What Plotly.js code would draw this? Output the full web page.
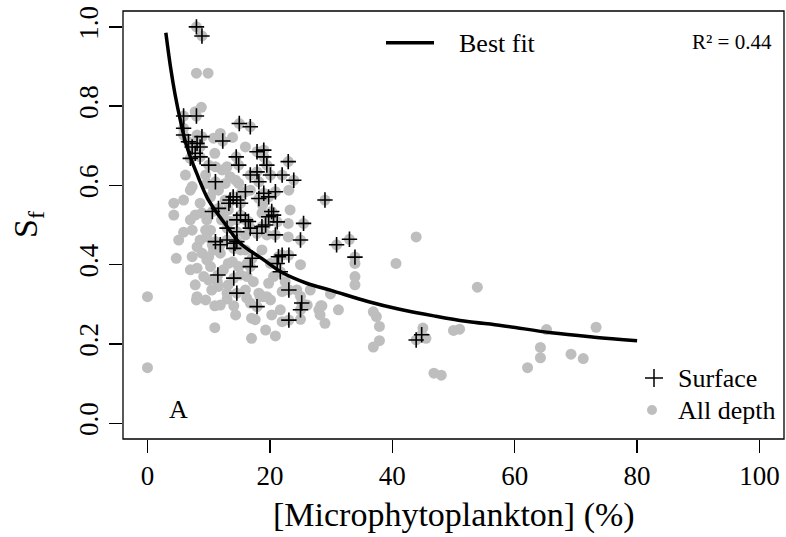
<!DOCTYPE html>
<html>
<head>
<meta charset="utf-8">
<script src="https://cdn.plot.ly/plotly-3.0.1.min.js"></script>
<style>html,body{margin:0;padding:0;background:#fff;}#chart{width:786px;height:537px;}</style>
</head>
<body>
<div id="chart"></div>
<script>
// Best-fit curve
const fitX = [3, 3.75, 4.5, 5.4, 6.2, 7, 8, 10, 13, 15, 19, 22, 26, 30, 36, 41, 47, 52, 58, 66, 73, 80];
const fitY = [0.985, 0.90, 0.83, 0.762, 0.71, 0.672, 0.632, 0.562, 0.496, 0.456, 0.412, 0.38, 0.353, 0.335, 0.307, 0.288, 0.27, 0.257, 0.246, 0.228, 0.217, 0.208];

// Surface samples (+)
const surfaceX = [8.0, 8.9, 5.9, 8.0, 15.0, 16.8, 5.9, 5.9, 6.7, 8.1, 8.9, 7.3, 8.6, 7.8, 8.6, 12.3, 17.9, 19.0, 19.0, 14.5,
  23.0, 7.0, 10.0, 14.9, 19.5, 23.9, 22.0, 16.8, 17.9, 18.2, 20.1, 11.1, 16.0, 19.0, 18.2, 20.9, 19.8, 29.0, 13.5, 14.0,
  14.6, 15.2, 13.3, 11.6, 10.6, 15.2, 16.0, 16.5, 14.6, 20.3, 20.6, 19.8, 21.2, 19.3, 18.7, 25.5, 13.0, 14.6, 16.8, 17.9,
  20.9, 25.0, 11.1, 11.9, 13.0, 14.3, 14.1, 14.6, 17.1, 16.8, 21.4, 22.0, 23.1, 21.2, 21.7, 11.5, 14.1, 23.1, 14.6, 17.9,
  25.2, 25.0, 23.1, 30.9, 33.0, 33.9, 43.9, 44.8];
const surfaceY = [1.0, 0.977, 0.775, 0.775, 0.756, 0.748, 0.744, 0.727, 0.71, 0.706, 0.723, 0.697, 0.697, 0.681, 0.672, 0.712, 0.685, 0.689, 0.672, 0.672,
  0.66, 0.668, 0.651, 0.651, 0.651, 0.613, 0.626, 0.626, 0.634, 0.609, 0.626, 0.609, 0.584, 0.58, 0.567, 0.584, 0.571, 0.563, 0.563, 0.571,
  0.563, 0.555, 0.555, 0.542, 0.534, 0.525, 0.513, 0.509, 0.513, 0.534, 0.525, 0.521, 0.508, 0.5, 0.496, 0.504, 0.492, 0.483, 0.492, 0.479,
  0.475, 0.462, 0.458, 0.45, 0.462, 0.454, 0.441, 0.458, 0.416, 0.395, 0.42, 0.424, 0.424, 0.403, 0.382, 0.374, 0.366, 0.336, 0.328, 0.294,
  0.303, 0.286, 0.26, 0.45, 0.464, 0.419, 0.21, 0.223];

// Deeper samples (grey only)
const deepX = [8.0, 9.9, 8.8, 7.8, 8.1, 10.8, 11.9, 13.9, 16.0, 11.0,
  4.3, 5.9, 4.3, 7.3, 7.0, 7.3, 8.6, 8.1, 8.9, 10.0, 7.3, 8.1, 10.3, 9.7, 10.3, 9.7, 8.9, 8.6, 10.3, 10.8,
  9.7, 12.7, 13.5, 12.2, 13.0, 11.1, 14.9, 15.3, 12.4, 13.5, 10.8, 11.9, 10.0, 11.4, 12.4, 13.2, 9.7, 9.2, 10.5, 11.6,
  13.0, 8.1, 16.3, 16.0, 17.3, 18.2, 19.0, 19.8, 20.6, 22.5, 24.4, 25.0, 26.6, 18.7, 19.5, 18.7, 20.1, 23.0, 23.0, 23.3,
  23.1, 16.0, 16.0, 15.2, 16.3, 14.9,
  0, 0, 8.0, 11.0, 11.0, 13.0, 14.1, 16.8, 17.0, 17.0, 18.4, 19.5, 20.3, 20.9, 22.0, 22.0, 25.0, 25.0, 26.1, 28.0,
  28.2, 29.0, 28.5,
  33.9, 33.9, 33.9, 43.9, 40.6, 53.9, 29.9, 28.3, 31.2, 36.9, 37.4, 37.9, 37.9, 36.9, 45.0, 45.5, 50.0, 51.0,
  65.2, 64.2, 64.2, 62.1, 69.2, 71.2, 73.3, 46.8, 48.0,
  5.1, 5.9, 4.7, 7.0, 7.8, 9.5, 11.9, 13.2, 15.2, 13.9, 12.1, 13.2, 11.6, 12.7, 18.8, 16.8, 14.4, 9.5, 7.0, 6.2,
  7.8, 9.5, 10.6, 20.1, 21.7, 17.6, 19.3, 14.4, 16.2];
const deepY = [0.883, 0.883, 0.797, 0.786, 0.727, 0.719, 0.731, 0.721, 0.697, 0.681,
  0.555, 0.563, 0.525, 0.597, 0.513, 0.487, 0.462, 0.445, 0.429, 0.42, 0.42, 0.391, 0.395, 0.47, 0.487, 0.513, 0.53, 0.555, 0.571, 0.588,
  0.605, 0.605, 0.622, 0.639, 0.647, 0.647, 0.605, 0.58, 0.521, 0.509, 0.437, 0.429, 0.361, 0.357, 0.387, 0.403, 0.412, 0.37, 0.336, 0.345,
  0.328, 0.319, 0.37, 0.336, 0.357, 0.328, 0.319, 0.353, 0.37, 0.357, 0.336, 0.4, 0.336, 0.53, 0.475, 0.437, 0.403, 0.47, 0.504, 0.538,
  0.588, 0.475, 0.437, 0.437, 0.403, 0.395,
  0.319, 0.14, 0.311, 0.296, 0.241, 0.313, 0.296, 0.303, 0.265, 0.214, 0.319, 0.319, 0.273, 0.22, 0.256, 0.332, 0.262, 0.32, 0.298, 0.286,
  0.273, 0.252, 0.296,
  0.403, 0.37, 0.349, 0.47, 0.403, 0.343, 0.326, 0.296, 0.286, 0.281, 0.269, 0.244, 0.208, 0.192, 0.24, 0.214, 0.234, 0.237,
  0.236, 0.191, 0.165, 0.14, 0.174, 0.163, 0.242, 0.126, 0.121,
  0.462, 0.482, 0.416, 0.387, 0.349, 0.311, 0.298, 0.349, 0.374, 0.407, 0.513, 0.538, 0.588, 0.563, 0.55, 0.588, 0.613, 0.626, 0.588, 0.626,
  0.525, 0.487, 0.45, 0.311, 0.286, 0.261, 0.235, 0.273, 0.316];

const xTicks = [0, 20, 40, 60, 80, 100];
const yTicks = [0, 0.2, 0.4, 0.6, 0.8, 1.0];
const yTickText = ['0.0', '0.2', '0.4', '0.6', '0.8', '1.0'];

const allX = surfaceX.concat(deepX);
const allY = surfaceY.concat(deepY);

const FONT = 'Liberation Serif, Times New Roman, serif';
const GREY = '#BEBEBE';

const traces = [
  {x: allX, y: allY, type: 'scatter', mode: 'markers', name: 'All depth',
   marker: {color: GREY, size: 11, line: {width: 0}}, hoverinfo: 'skip'},
  {x: surfaceX, y: surfaceY, type: 'scatter', mode: 'markers', name: 'Surface',
   marker: {symbol: 'cross-thin-open', color: '#000', size: 11, line: {width: 1.6, color: '#000'}}, hoverinfo: 'skip'},
  {x: fitX, y: fitY, type: 'scatter', mode: 'lines', name: 'Best fit',
   line: {color: '#000', width: 3.5, shape: 'spline', smoothing: 1}, hoverinfo: 'skip'}
];

const W = 661, H = 428, L = 123, T = 11;
function px(xp) { return (xp - L) / W; }
function py(yp) { return (T + H - yp) / H; }

const layout = {
  width: 786, height: 537,
  margin: {l: L, r: 786 - L - W, t: T, b: 537 - T - H, pad: 0},
  paper_bgcolor: '#fff', plot_bgcolor: '#fff',
  showlegend: false,
  font: {family: FONT, color: '#000'},
  xaxis: {range: [-4, 104], tickvals: xTicks, ticks: 'outside', ticklen: 13, tickwidth: 1.3, tickcolor: '#000',
    showgrid: false, zeroline: false, showline: false, tickfont: {family: FONT, size: 27, color: '#000'}},
  yaxis: {range: [-0.04, 1.04], tickvals: yTicks, ticktext: yTickText, tickangle: -90, ticks: 'outside', ticklen: 13,
    tickwidth: 1.3, tickcolor: '#000', showgrid: false, zeroline: false, showline: false,
    tickfont: {family: FONT, size: 27, color: '#000'}},
  shapes: [
    {type: 'rect', xref: 'paper', yref: 'paper', x0: 0, x1: 1, y0: 0, y1: 1, line: {color: '#000', width: 1.3}},
    {type: 'line', xref: 'paper', yref: 'paper', x0: px(386), x1: px(434), y0: py(42.7), y1: py(42.7), line: {color: '#000', width: 3.5}},
    {type: 'line', xref: 'paper', yref: 'paper', x0: px(645), x1: px(663), y0: py(378), y1: py(378), line: {color: '#000', width: 1.5}},
    {type: 'line', xref: 'paper', yref: 'paper', x0: px(654), x1: px(654), y0: py(369), y1: py(387), line: {color: '#000', width: 1.5}},
    {type: 'circle', xref: 'paper', yref: 'paper', x0: px(647), x1: px(657), y0: py(415), y1: py(405), fillcolor: GREY, line: {width: 0}}
  ],
  annotations: [
    {xref: 'paper', yref: 'paper', x: px(457), y: py(43), xanchor: 'left', yanchor: 'middle', text: 'Best fit', showarrow: false, font: {family: FONT, size: 26}},
    {xref: 'paper', yref: 'paper', x: px(774), y: py(42), xanchor: 'right', yanchor: 'middle', text: 'R² = 0.44', showarrow: false, font: {family: FONT, size: 21}},
    {xref: 'paper', yref: 'paper', x: px(676), y: py(378), xanchor: 'left', yanchor: 'middle', text: 'Surface', showarrow: false, font: {family: FONT, size: 26}},
    {xref: 'paper', yref: 'paper', x: px(676), y: py(410), xanchor: 'left', yanchor: 'middle', text: 'All depth', showarrow: false, font: {family: FONT, size: 26}},
    {xref: 'paper', yref: 'paper', x: px(178), y: py(409), xanchor: 'center', yanchor: 'middle', text: 'A', showarrow: false, font: {family: FONT, size: 26}},
    {xref: 'paper', yref: 'paper', x: px(453.5), y: py(515), xanchor: 'center', yanchor: 'middle', text: '[Microphytoplankton] (%)', showarrow: false, font: {family: FONT, size: 34}},
    {xref: 'paper', yref: 'paper', x: px(28), y: py(225), xanchor: 'center', yanchor: 'middle', textangle: -90, text: 'S<sub>f</sub>', showarrow: false, font: {family: FONT, size: 34}}
  ]
};

Plotly.newPlot('chart', traces, layout, {displayModeBar: false, staticPlot: true});
</script>
</body>
</html>
